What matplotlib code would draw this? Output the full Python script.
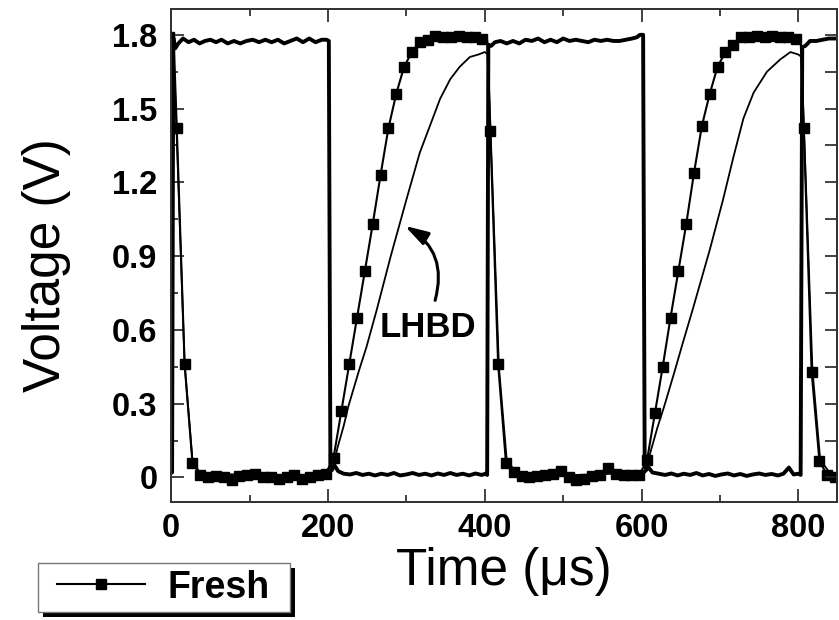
import numpy as np
import matplotlib
matplotlib.use('Agg')
from matplotlib import pyplot as plt
from matplotlib.ticker import MultipleLocator
from matplotlib.patches import Rectangle

plt.rcParams.update({'font.family': ['Liberation Sans', 'DejaVu Sans']})

# input square wave (thick line)
input_t = [-5, 1, 2.5, 5, 9, 15, 22, 29, 36, 43, 50, 57, 64, 72, 80, 88, 96, 104, 112, 120,
           128, 136, 144, 152, 160, 168, 176, 184, 192, 198, 201,
           203, 205, 208, 213, 220, 228, 236, 244, 252, 260, 268, 276, 284, 292, 300, 308,
           316, 324, 332, 340, 348, 356, 364, 372, 380, 388, 396, 401, 403,
           404.5, 408, 413, 420, 428, 436, 444, 452, 460, 468, 476, 484, 492, 500, 508, 516,
           524, 532, 540, 548, 556, 564, 572, 580, 588, 594, 598, 602,
           604, 606, 609, 614, 622, 630, 638, 646, 654, 662, 670, 678, 686, 694, 702, 710,
           718, 726, 734, 742, 750, 758, 766, 774, 781, 788, 794, 800, 803,
           805, 809, 815, 823, 831, 839, 850]
input_v = [0.01, 0.02, 1.79, 1.745, 1.765, 1.785, 1.77, 1.78, 1.765, 1.775, 1.78, 1.77, 1.78, 1.765, 1.775, 1.765, 1.775, 1.78, 1.77, 1.78,
           1.77, 1.78, 1.765, 1.775, 1.785, 1.77, 1.785, 1.77, 1.78, 1.78, 1.775,
           0.04, 0.03, 0.05, 0.025, 0.015, 0.012, 0.018, 0.01, 0.015, 0.008, 0.015, 0.01, 0.018, 0.008, 0.012, 0.018,
           0.01, 0.015, 0.008, 0.016, 0.01, 0.018, 0.01, 0.015, 0.008, 0.016, 0.01, 0.015, 0.01,
           1.76, 1.755, 1.77, 1.775, 1.765, 1.775, 1.765, 1.78, 1.775, 1.785, 1.77, 1.78, 1.77, 1.785, 1.775, 1.78,
           1.775, 1.77, 1.78, 1.775, 1.78, 1.775, 1.775, 1.78, 1.785, 1.79, 1.80, 1.80,
           0.05, 0.03, 0.04, 0.02, 0.015, 0.01, 0.016, 0.008, 0.015, 0.01, 0.018, 0.008, 0.014, 0.006, 0.012, 0.016,
           0.008, 0.014, 0.006, 0.012, 0.016, 0.01, 0.014, 0.008, 0.015, 0.04, 0.012, 0.015, 0.01,
           1.75, 1.755, 1.775, 1.775, 1.78, 1.785, 1.785]

# Fresh inverter output (markers every 10 us, plus edge corners)
fresh_t = [-3, 3, 7, 17, 27, 37, 47, 57, 67, 77, 87, 97, 107, 117, 127, 137, 147, 157, 167, 177, 187, 197,
           207, 217, 227, 237, 247, 257, 267, 277, 287, 297, 307, 317, 327, 337, 347, 357, 367, 377, 387, 397,
           403, 407, 417, 427, 437, 447, 457, 467, 477, 487, 497, 507, 517, 527, 537, 547, 557, 567, 577, 587, 597,
           607, 617, 627, 637, 647, 657, 667, 677, 687, 697, 707, 717, 727, 737, 747, 757, 767, 777, 787, 797,
           803, 807, 817, 827, 837, 847]
fresh_v = [1.79, 1.78, 1.42, 0.46, 0.06, 0.01, 0.0, 0.005, 0.0, -0.01, 0.005, 0.01, 0.015, 0.0, 0.0, -0.005, 0.0, 0.01, -0.005, 0.0, 0.01, 0.015,
           0.08, 0.27, 0.46, 0.65, 0.84, 1.03, 1.23, 1.42, 1.56, 1.67, 1.73, 1.77, 1.78, 1.795, 1.79, 1.79, 1.795, 1.79, 1.79, 1.785,
           1.78, 1.41, 0.46, 0.06, 0.02, 0.005, 0.0, 0.005, 0.01, 0.015, 0.025, 0.0, -0.01, -0.005, 0.005, 0.01, 0.04, 0.015, 0.01, 0.01, 0.01,
           0.07, 0.26, 0.45, 0.65, 0.84, 1.03, 1.24, 1.43, 1.56, 1.67, 1.73, 1.76, 1.79, 1.79, 1.795, 1.79, 1.795, 1.79, 1.79, 1.785,
           1.78, 1.42, 0.43, 0.065, 0.01, 0.0]
fresh_corners = [3, 403, 803]

# LHBD stressed output (thin line)
lhbd_t = [-3, 3, 7, 17, 27, 37, 120, 200, 205, 207, 212, 220, 226, 240, 249, 262, 280, 300, 317, 330, 343, 356,
          368, 381, 392, 400, 404, 408, 418, 428, 440, 520, 605, 607, 612, 620, 629, 643, 652, 665, 687, 704,
          717, 730, 743, 760, 777, 790, 800, 804, 808, 818, 828, 840, 850]
lhbd_v = [1.73, 1.72, 1.38, 0.46, 0.07, 0.015, 0.01, 0.01, 0.03, 0.05, 0.12, 0.21, 0.29, 0.44, 0.53, 0.68, 0.90, 1.13, 1.32, 1.43, 1.54, 1.62,
          1.67, 1.71, 1.72, 1.73, 1.72, 1.35, 0.45, 0.07, 0.02, 0.01, 0.02, 0.05, 0.11, 0.2, 0.29, 0.44, 0.54, 0.68, 0.925, 1.13,
          1.30, 1.46, 1.565, 1.65, 1.70, 1.73, 1.72, 1.71, 1.35, 0.44, 0.07, 0.02, 0.01]

x_ticks = [0, 200, 400, 600, 800]
y_ticks = [0, 0.3, 0.6, 0.9, 1.2, 1.5, 1.8]
y_ticklabels = ['0', '0.3', '0.6', '0.9', '1.2', '1.5', '1.8']

W, H = 839, 620
fig = plt.figure(figsize=(W / 100, H / 100), dpi=100)
ax = fig.add_axes([171.3 / W, 118 / H, 665.4 / W, 493 / H])

ax.plot(input_t, input_v, color='k', lw=2.8, solid_joinstyle='round', zorder=2)
ax.plot(lhbd_t, lhbd_v, color='k', lw=1.3, zorder=3)
marks = [i for i, t in enumerate(fresh_t) if t not in fresh_corners]
fresh_line, = ax.plot(fresh_t, fresh_v, color='k', lw=1.5, marker='s', markersize=7.8,
                      markevery=marks, zorder=4)

ax.set_xlim(0, 849)
ax.set_ylim(-0.1, 1.905)

ax.set_xticks(x_ticks)
ax.set_xticklabels([str(x) for x in x_ticks])
ax.set_yticks(y_ticks)
ax.set_yticklabels(y_ticklabels)
ax.xaxis.set_minor_locator(MultipleLocator(100))
ax.yaxis.set_minor_locator(MultipleLocator(0.15))
ax.tick_params(which='both', direction='in', top=True, right=False, width=1.2, color='#222222')
ax.tick_params(which='major', length=9.5, labelsize=23.5)
ax.tick_params(which='minor', length=5)
ax.tick_params(axis='y', pad=10)
ax.tick_params(axis='x', pad=8)
for lab in ax.get_xticklabels() + ax.get_yticklabels():
    lab.set_fontweight('bold')

# right side ticks every 0.15
ax2 = ax.twinx()
ax2.set_ylim(ax.get_ylim())
ax2.yaxis.set_major_locator(MultipleLocator(0.15))
ax2.tick_params(direction='in', length=9, width=1.2, labelright=False, color='#222222')

for a in (ax, ax2):
    for sp in a.spines.values():
        sp.set_linewidth(1.3)
        sp.set_color('#333333')

ax.set_xlabel('Time (μs)', fontsize=37)
ax.set_ylabel('Voltage (V)', fontsize=37)
ax.xaxis.set_label_coords(0.5, -0.0913)
ax.yaxis.set_label_coords(-0.151, 0.481)

# LHBD annotation with curved arrow
ax.text(327.6, 0.609, 'LHBD', ha='center', va='center', fontsize=25, fontweight='bold', zorder=6)
ax.annotate('', xy=(298, 1.023), xytext=(336.6, 0.72),
            arrowprops=dict(arrowstyle='-|>,head_length=1.0,head_width=0.3', mutation_scale=14,
                            connectionstyle='arc3,rad=0.38', lw=2.2, color='k',
                            shrinkA=0, shrinkB=0), zorder=6)

# legend box with hard shadow
fig.add_artist(Rectangle((43 / W, 1 - 617 / H), 252 / W, 49 / H, transform=fig.transFigure,
                         facecolor='k', edgecolor='none', zorder=3))
fig.add_artist(Rectangle((38 / W, 1 - 612 / H), 252 / W, 49 / H, transform=fig.transFigure,
                         facecolor='white', edgecolor='#777777', lw=1.0, zorder=4))
fig.legend(handles=[fresh_line], labels=['Fresh'], loc='center left',
           bbox_to_anchor=(57 / W, 1 - 587.5 / H), frameon=False, borderpad=0,
           borderaxespad=0, handlelength=2.35, handletextpad=0.59,
           prop={'weight': 'bold', 'size': 27}).set_zorder(5)

fig.savefig('out.png', dpi=100)
